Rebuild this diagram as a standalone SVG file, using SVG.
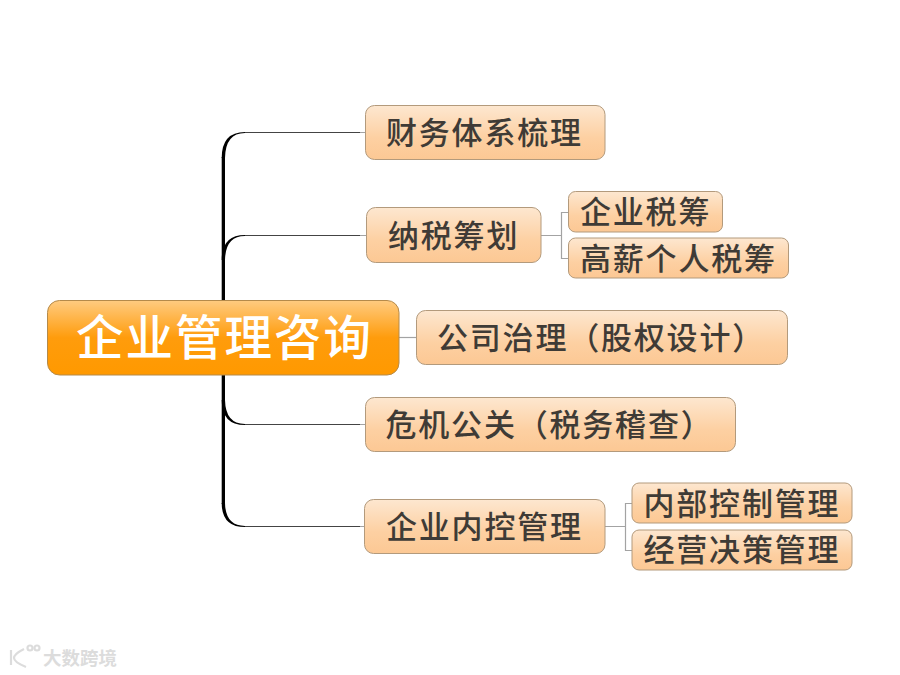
<svg xmlns="http://www.w3.org/2000/svg" width="900" height="675" viewBox="0 0 900 675">
<style>
.n{fill:url(#g);stroke:#b39a7c;stroke-width:1}
.t{font-family:"Noto Sans CJK SC","Noto Sans CJK JP",sans-serif;font-size:31px;letter-spacing:1.800px;fill:#3f3b36;font-weight:500}
.c{fill:none;stroke:#444;stroke-width:1.2}
.s{fill:none;stroke:#a3a3a3;stroke-width:1.2}
.b{fill:#000}
</style>
<defs>
<linearGradient id="g" x1="0" y1="0" x2="0" y2="1"><stop offset="0" stop-color="#fde7d0"/><stop offset=".6" stop-color="#fdd0a2"/><stop offset="1" stop-color="#fcc894"/></linearGradient>
<linearGradient id="r" x1="0" y1="0" x2="0" y2="1"><stop offset="0" stop-color="#ffcb80"/><stop offset=".5" stop-color="#ff9c0c"/><stop offset="1" stop-color="#ff9900"/></linearGradient>
</defs>
<rect width="900" height="675" fill="#fff"/>
<g id="connectors">
<rect class="b" x="221.700" y="157" width="3.300" height="148"/>
<rect class="b" x="221.700" y="370" width="3.300" height="134"/>
<path class="b" d="M245 131.900Q221.700 131.900 221.700 158L225 158Q225.500 133.100 245 133.100Z"/>
<path class="b" d="M245 234.900Q221.700 234.900 221.700 260L225 260Q225.500 236.100 245 236.100Z"/>
<path class="b" d="M245 425.100Q221.700 425.100 221.700 400L225 400Q225.500 423.900 245 423.900Z"/>
<path class="b" d="M245 527.100Q221.700 527.100 221.700 503L225 503Q225.500 525.900 245 525.900Z"/>
<path class="c" d="M245 132.500H360"/><path class="c" d="M245 235.500H360"/><path class="c" d="M245 424.500H360"/><path class="c" d="M245 526.500H360"/>
<path class="s" d="M360 132.500H365M360 235.500H366M360 424.500H365M360 526.500H365"/>
<path class="s" d="M399 337.500H416"/>
<path class="s" d="M541 235.500H561M568 212.500H561.500V258.500H568"/>
<path class="s" d="M605 526.500H625M632 503.500H625.500V550.500H632"/>
</g>
<g id="root"><rect x="47.500" y="300.500" width="351.500" height="74.500" rx="12" fill="url(#r)" stroke="#b58a4a"/><text x="76" y="355" font-family="Noto Sans CJK SC,Noto Sans CJK JP,sans-serif" font-size="47.500" letter-spacing="2" fill="#fff" font-weight="500">企业管理咨询</text></g>
<g id="n1"><rect class="n" x="365.500" y="105.500" width="239.500" height="54" rx="9"/><text class="t" x="386" y="144">财务体系梳理</text></g>
<g id="n2"><rect class="n" x="366.500" y="207.500" width="174.500" height="55" rx="9"/><text class="t" x="388" y="247">纳税筹划</text></g>
<g id="n2a"><rect class="n" x="568.500" y="191.500" width="154" height="40.500" rx="7"/><text class="t" x="580" y="223">企业税筹</text></g>
<g id="n2b"><rect class="n" x="568.500" y="238" width="220" height="40" rx="7"/><text class="t" x="580" y="270">高薪个人税筹</text></g>
<g id="n3"><rect class="n" x="416.500" y="310.500" width="371" height="54" rx="9"/><text class="t" x="437" y="349">公司治理（股权设计）</text></g>
<g id="n4"><rect class="n" x="365.500" y="397.500" width="370" height="54" rx="9"/><text class="t" x="385.500" y="436">危机公关（税务稽查）</text></g>
<g id="n5"><rect class="n" x="364.500" y="499.500" width="240.500" height="54" rx="9"/><text class="t" x="386" y="538">企业内控管理</text></g>
<g id="n5a"><rect class="n" x="632" y="483" width="220" height="40" rx="7"/><text class="t" x="643.500" y="515">内部控制管理</text></g>
<g id="n5b"><rect class="n" x="632" y="530" width="220" height="40" rx="7"/><text class="t" x="643.500" y="561">经营决策管理</text></g>
<g id="watermark" fill="none" stroke="#dcdcdc" stroke-width="2.200">
<path d="M11 650V665M24 649Q14 654 14 658T26 667"/><circle cx="30" cy="648" r="2.500"/><circle cx="37" cy="648" r="2.500"/>
<text x="43" y="665" font-family="Noto Sans CJK SC,sans-serif" font-size="18.500" font-weight="700" fill="#dcdcdc" stroke="none">大数跨境</text>
</g>
</svg>
